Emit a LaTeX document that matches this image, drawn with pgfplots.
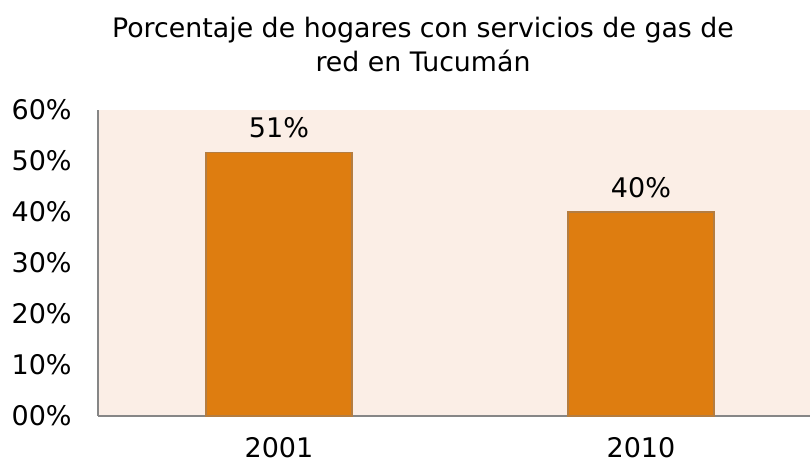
\documentclass[border=0pt]{standalone}
\usepackage{fontspec}
\setmainfont{DejaVu Sans}
\usepackage{pgfplots}
\pgfplotsset{compat=1.18}
\definecolor{bgpink}{RGB}{251,238,230}
\definecolor{barorange}{RGB}{222,125,16}
\definecolor{barborder}{RGB}{180,125,65}
\definecolor{axisgray}{RGB}{134,134,134}
\begin{document}
\begin{tikzpicture}[x=0.5bp,y=-0.5bp]
\path[use as bounding box] (0,0) rectangle (810,464);
\coordinate (O) at (98,416);
\node[anchor=base,inner sep=0pt,font=\fontsize{13.4bp}{16bp}\selectfont] at (423,38) {Porcentaje de hogares con servicios de gas de};
\node[anchor=base,inner sep=0pt,font=\fontsize{13.4bp}{16bp}\selectfont] at (423,72) {red en Tucumán};
\begin{axis}[
  at={(O)}, anchor=south west,
  width=356bp, height=153bp, scale only axis,
  xmin=-0.5, xmax=1.467, ymin=0, ymax=60,
  axis lines*=left,
  axis line style={draw=axisgray, line width=1.1bp, -},
  axis background/.style={fill=bgpink},
  xtick={0,1}, xticklabels={2001,2010},
  ytick={0,10,20,30,40,50,60},
  yticklabels={00\%,10\%,20\%,30\%,40\%,50\%,60\%},
  major tick length=0pt,
  tick label style={font=\fontsize{13.5bp}{16bp}\selectfont, inner sep=0pt},
  yticklabel style={anchor=east, xshift=-13bp},
  xticklabel style={anchor=north, yshift=-10.5bp},
  ybar, bar width=0.403,
  point meta=explicit symbolic,
  nodes near coords,
  nodes near coords style={anchor=south, inner sep=0pt, yshift=7bp, font=\fontsize{13.5bp}{16bp}\selectfont, text=black},
  clip=false,
]
\addplot[fill=barorange, draw=barborder, line width=0.6bp] coordinates {(0,51.7) [51\%] (1,40) [40\%]};
\end{axis}
\end{tikzpicture}
\end{document}
